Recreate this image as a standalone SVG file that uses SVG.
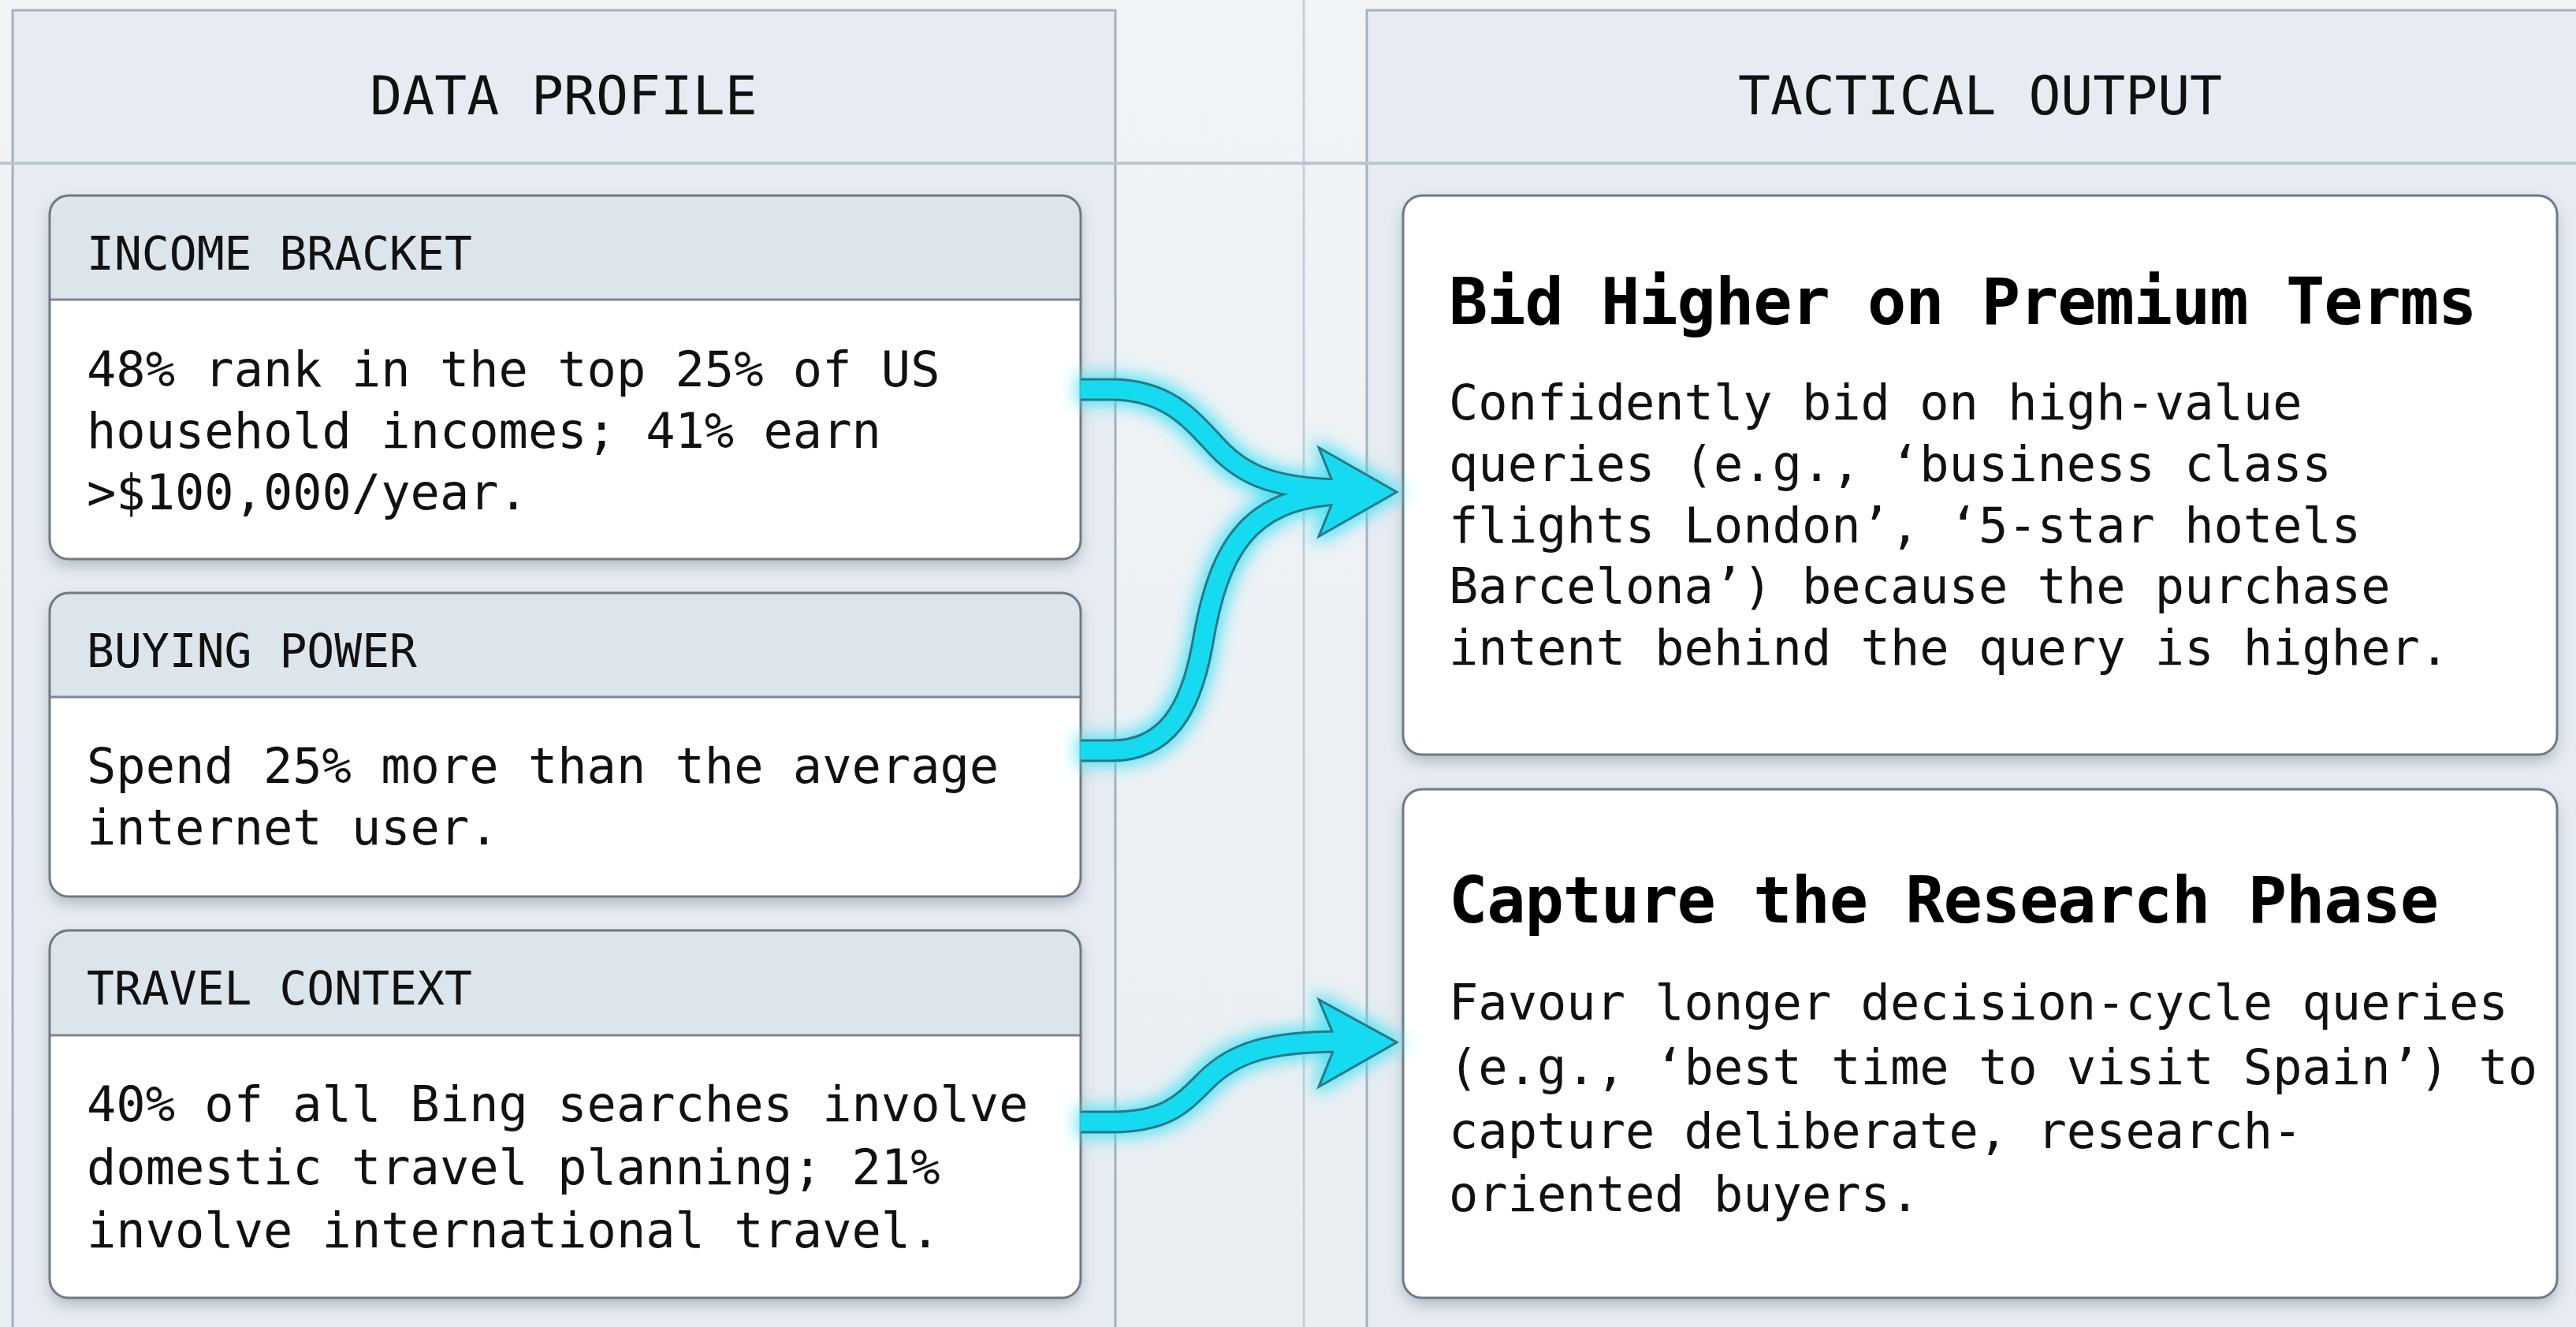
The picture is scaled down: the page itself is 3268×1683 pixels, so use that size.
<svg xmlns="http://www.w3.org/2000/svg" width="3268" height="1683" viewBox="0 0 3268 1683">
<style>
.panel{fill:#e6ecf1;stroke:#a5b0bb;stroke-width:3}
.cardbody{fill:#ffffff}
.cardhead{fill:#dde5ec}
.cardborder{fill:none;stroke:#6e7a86;stroke-width:3}
.divider{stroke:#7d8893;stroke-width:3}
.ptitle{font-family:"DejaVu Sans Mono","Liberation Mono",monospace;font-size:68px;fill:#111;text-anchor:middle}
.label{font-family:"DejaVu Sans Mono","Liberation Mono",monospace;font-size:58px;fill:#111}
.body{font-family:"DejaVu Sans Mono","Liberation Mono",monospace;font-size:62px;fill:#111}
.title{font-family:"DejaVu Sans Mono","Liberation Mono",monospace;font-size:82px;font-weight:bold;fill:#000;letter-spacing:-1.1px}
.out{fill:none;stroke:#2a7787;stroke-width:29;stroke-linecap:butt}
.in{fill:none;stroke:#16daf0;stroke-width:23;stroke-linecap:butt}
.headout{fill:#2a7787;stroke:#2a7787;stroke-width:6;stroke-linejoin:miter}
.headin{fill:#16daf0}
</style>
<defs>
<linearGradient id="bg" x1="0" y1="0" x2="0" y2="1">
<stop offset="0" stop-color="#f1f4f7"/>
<stop offset="1" stop-color="#e9eef2"/>
</linearGradient>
<filter id="shadow" x="-5%" y="-10%" width="110%" height="125%">
<feDropShadow dx="0" dy="9" stdDeviation="9" flood-color="#4f5d6a" flood-opacity="0.35"/>
</filter>
<filter id="glow" x="-20%" y="-20%" width="140%" height="140%">
<feMorphology in="SourceAlpha" operator="dilate" radius="4" result="d"/>
<feGaussianBlur in="d" stdDeviation="11" result="b"/>
<feFlood flood-color="#38e0f4" flood-opacity="0.9"/>
<feComposite in2="b" operator="in" result="g"/>
<feMerge><feMergeNode in="g"/><feMergeNode in="SourceGraphic"/></feMerge>
</filter>
</defs>

<rect x="0" y="0" width="3268" height="1683" fill="url(#bg)"/>
<line x1="1654" y1="0" x2="1654" y2="1683" stroke="#c6ced6" stroke-width="3"/>

<g id="panel-data-profile">
<rect class="panel" x="16" y="13" width="1399" height="1700"/>
<text class="ptitle" x="715" y="145">DATA PROFILE</text>
</g>
<g id="panel-tactical-output">
<rect class="panel" x="1734" y="13" width="1580" height="1700"/>
<text class="ptitle" x="2512" y="145">TACTICAL OUTPUT</text>
</g>
<line x1="0" y1="207" x2="3268" y2="207" stroke="#bcc6cf" stroke-width="4"/>

<g id="card-income-bracket">
<rect class="cardbody" x="63" y="248" width="1308" height="461" rx="24" filter="url(#shadow)"/>
<path class="cardhead" d="M63,380 V272 A24,24 0 0 1 87,248 H1347 A24,24 0 0 1 1371,272 V380 Z"/>
<line class="divider" x1="63" y1="380" x2="1371" y2="380"/>
<rect class="cardborder" x="63" y="248" width="1308" height="461" rx="24"/>
<text class="label" x="110" y="342">INCOME BRACKET</text>
<text class="body" x="110" y="490">48% rank in the top 25% of US</text>
<text class="body" x="110" y="568">household incomes; 41% earn</text>
<text class="body" x="110" y="646">&gt;$100,000/year.</text>
</g>

<g id="card-buying-power">
<rect class="cardbody" x="63" y="752" width="1308" height="385" rx="24" filter="url(#shadow)"/>
<path class="cardhead" d="M63,884 V776 A24,24 0 0 1 87,752 H1347 A24,24 0 0 1 1371,776 V884 Z"/>
<line class="divider" x1="63" y1="884" x2="1371" y2="884"/>
<rect class="cardborder" x="63" y="752" width="1308" height="385" rx="24"/>
<text class="label" x="110" y="846">BUYING POWER</text>
<text class="body" x="110" y="993">Spend 25% more than the average</text>
<text class="body" x="110" y="1071">internet user.</text>
</g>

<g id="card-travel-context">
<rect class="cardbody" x="63" y="1180" width="1308" height="466" rx="24" filter="url(#shadow)"/>
<path class="cardhead" d="M63,1313 V1204 A24,24 0 0 1 87,1180 H1347 A24,24 0 0 1 1371,1204 V1313 Z"/>
<line class="divider" x1="63" y1="1313" x2="1371" y2="1313"/>
<rect class="cardborder" x="63" y="1180" width="1308" height="466" rx="24"/>
<text class="label" x="110" y="1274">TRAVEL CONTEXT</text>
<text class="body" x="110" y="1422">40% of all Bing searches involve</text>
<text class="body" x="110" y="1502">domestic travel planning; 21%</text>
<text class="body" x="110" y="1582">involve international travel.</text>
</g>

<g id="card-bid-higher">
<rect class="cardbody" x="1780" y="248" width="1464" height="709" rx="24" filter="url(#shadow)"/>
<rect class="cardborder" x="1780" y="248" width="1464" height="709" rx="24"/>
<text class="title" x="1838" y="411">Bid Higher on Premium Terms</text>
<text class="body" x="1838" y="532">Confidently bid on high-value</text>
<text class="body" x="1838" y="610">queries (e.g., ‘business class</text>
<text class="body" x="1838" y="688">flights London’, ‘5-star hotels</text>
<text class="body" x="1838" y="765">Barcelona’) because the purchase</text>
<text class="body" x="1838" y="843">intent behind the query is higher.</text>
</g>

<g id="card-capture-research">
<rect class="cardbody" x="1780" y="1001" width="1464" height="645" rx="24" filter="url(#shadow)"/>
<rect class="cardborder" x="1780" y="1001" width="1464" height="645" rx="24"/>
<text class="title" x="1838" y="1170">Capture the Research Phase</text>
<text class="body" x="1838" y="1293">Favour longer decision-cycle queries</text>
<text class="body" x="1838" y="1375">(e.g., ‘best time to visit Spain’) to</text>
<text class="body" x="1838" y="1456">capture deliberate, research-</text>
<text class="body" x="1838" y="1536">oriented buyers.</text>
</g>

<g id="connectors" filter="url(#glow)">
<path class="out" d="M1371,494 L1410,494 C1480,494 1510,530 1545,568 C1580,605 1620,619 1700,621"/>
<path class="out" d="M1371,952 L1410,952 C1480,952 1510,900 1525,820 C1545,700 1580,632 1700,627"/>
<path class="out" d="M1371,1423 L1410,1423 C1480,1423 1500,1400 1530,1370 C1565,1335 1610,1321 1700,1321"/>
<polygon class="headout" points="1769,624 1676,571 1692,611 1692,637 1676,677"/>
<polygon class="headout" points="1769,1322 1676,1271 1692,1309 1692,1335 1676,1375"/>
<path class="in" d="M1371,494 L1410,494 C1480,494 1510,530 1545,568 C1580,605 1620,619 1700,621"/>
<path class="in" d="M1371,952 L1410,952 C1480,952 1510,900 1525,820 C1545,700 1580,632 1700,627"/>
<path class="in" d="M1371,1423 L1410,1423 C1480,1423 1500,1400 1530,1370 C1565,1335 1610,1321 1700,1321"/>
<polygon class="headin" points="1769,624 1676,571 1692,611 1692,637 1676,677"/>
<polygon class="headin" points="1769,1322 1676,1271 1692,1309 1692,1335 1676,1375"/>
</g>
</svg>
